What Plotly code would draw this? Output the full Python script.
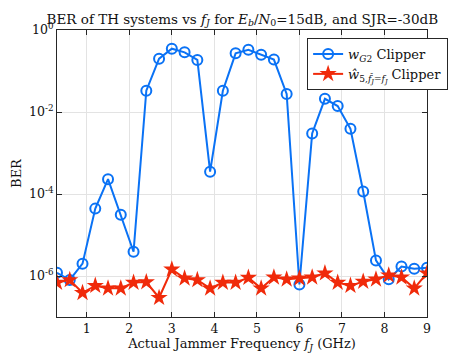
import numpy as np
import plotly.graph_objects as go

# jammer frequency (GHz)
freq = [0.3, 0.6, 0.9, 1.2, 1.5, 1.8, 2.1, 2.4, 2.7, 3.0,
        3.3, 3.6, 3.9, 4.2, 4.5, 4.8, 5.1, 5.4, 5.7, 6.0,
        6.3, 6.6, 6.9, 7.2, 7.5, 7.8, 8.1, 8.4, 8.7, 9.0]

ber_wg2 = [1.2e-6, 8e-7, 2e-6, 4.4e-5, 2.3e-4, 3.1e-5, 3.9e-6, 0.033, 0.2, 0.35,
           0.285, 0.186, 3.5e-4, 0.033, 0.27, 0.33, 0.25, 0.19, 0.0275, 6.2e-7,
           3.0e-3, 0.021, 0.014, 3.9e-3, 1.15e-4, 2.4e-6, 8.3e-7, 1.7e-6, 1.5e-6, 1.6e-6]

ber_w5 = [6.9e-7, 8e-7, 3.9e-7, 5.8e-7, 5e-7, 5e-7, 6.9e-7, 7.1e-7, 2.95e-7, 1.45e-6,
          8.8e-7, 8e-7, 5e-7, 6.9e-7, 6.9e-7, 9.1e-7, 5e-7, 9.3e-7, 8.3e-7, 8.8e-7,
          9.3e-7, 1.17e-6, 6.9e-7, 5.8e-7, 7.3e-7, 8.3e-7, 1.04e-6, 9.3e-7, 5e-7, 1.17e-6]

x_ticks = [1, 2, 3, 4, 5, 6, 7, 8, 9]
y_ticks = [1, 1e-2, 1e-4, 1e-6]
y_ticktext = ["10<sup>0</sup>", "10<sup>-2</sup>", "10<sup>-4</sup>", "10<sup>-6</sup>"]

BLUE = "#0a72f5"
RED = "#f02a0a"
FONT = "DejaVu Serif"

fig = go.Figure()

fig.add_trace(go.Scatter(
    x=freq, y=ber_wg2, mode="lines+markers",
    name="<i>w</i><sub><i>G</i>2</sub> Clipper",
    line=dict(color=BLUE, width=2),
    marker=dict(symbol="circle-open", size=10, color=BLUE, line=dict(width=2, color=BLUE)),
))
fig.add_trace(go.Scatter(
    x=freq, y=ber_w5, mode="lines+markers",
    name="<i>ŵ</i><sub>5,<i>f̂<sub>J</sub></i>=<i>f<sub>J</sub></i></sub> Clipper",
    line=dict(color=RED, width=2),
    marker=dict(symbol="star", size=13, color=RED, line=dict(width=0)),
))

axis_common = dict(
    showline=True, linecolor="#262626", linewidth=1, mirror="ticks",
    ticks="inside", ticklen=5, tickcolor="#262626",
    showgrid=True, gridcolor="#e3e3e3", gridwidth=1,
    zeroline=False, tickfont=dict(family=FONT, size=12.5, color="#111"),
)

fig.update_xaxes(range=[0.3, 9], tickvals=x_ticks,
                 title=dict(text="Actual Jammer Frequency <i>f<sub>J</sub></i> (GHz)",
                            font=dict(family=FONT, size=13, color="#111"), standoff=2),
                 **axis_common)
fig.update_yaxes(type="log", range=[-7, 0], tickvals=y_ticks, ticktext=y_ticktext,
                 title=dict(text="BER", font=dict(family=FONT, size=13, color="#111"), standoff=4),
                 **axis_common)

# page body adds an 8px offset, so the figure is drawn 8px smaller
fig.update_layout(
    width=455, height=356,
    margin=dict(l=49, r=36, t=22, b=47, autoexpand=False),
    paper_bgcolor="white", plot_bgcolor="white",
    title=dict(text="BER of TH systems vs <i>f<sub>J</sub></i> for <i>E<sub>b</sub></i>/<i>N</i><sub>0</sub>=15dB, and SJR=-30dB",
               x=0.515, xanchor="center", y=0.983, yanchor="top",
               font=dict(family=FONT, size=13.5, color="#111")),
    legend=dict(x=0.676, xanchor="left", y=0.972, yanchor="top",
                bgcolor="white", bordercolor="#262626", borderwidth=1,
                font=dict(family=FONT, size=13, color="#111"),
                tracegroupgap=0, itemwidth=30),
    showlegend=True,
)

fig.write_html("out.html")
